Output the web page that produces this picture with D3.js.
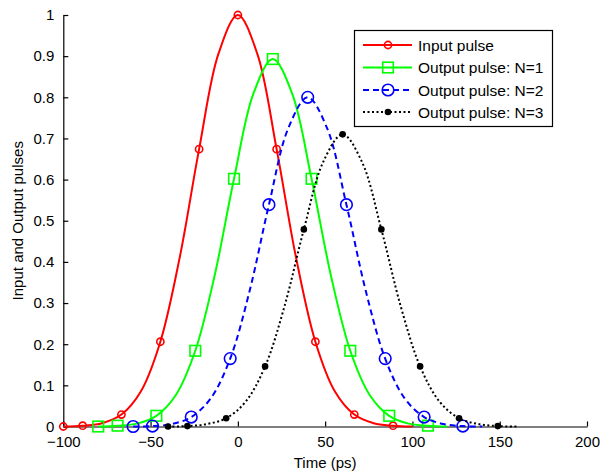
<!DOCTYPE html>
<html>
<head>
<meta charset="utf-8">
<script src="https://cdn.jsdelivr.net/npm/d3@7"></script>
<style>
  html, body { margin: 0; padding: 0; background: #fff; }
  svg { display: block; }
  text { font-family: Arial, "Liberation Sans", sans-serif; fill: #000; }
</style>
</head>
<body>
<svg id="chart" width="602" height="474"></svg>
<script>
// ---- Data ----
const xTicks = [-100, -50, 0, 50, 100, 150, 200];
const yTicks = [0, 0.1, 0.2, 0.3, 0.4, 0.5, 0.6, 0.7, 0.8, 0.9, 1];
const yTickLabels = ["0", "0.1", "0.2", "0.3", "0.4", "0.5", "0.6", "0.7", "0.8", "0.9", "1"];

const seriesNames = ["Input pulse", "Output pulse: N=1", "Output pulse: N=2", "Output pulse: N=3"];

const timeInput = [-100, -88.9, -77.8, -66.7, -55.6, -44.4, -33.3, -22.2, -11.1, 0, 11.1, 22.2, 33.3, 44.4, 55.6, 66.7, 77.8, 88.9, 100];
const valInput  = [0.000, 0.002, 0.008, 0.029, 0.085, 0.206, 0.411, 0.674, 0.906, 1.000, 0.906, 0.674, 0.411, 0.206, 0.085, 0.029, 0.008, 0.002, 0.000];

const timeN1 = [-80, -68.9, -57.8, -46.7, -35.6, -24.4, -13.3, -2.2, 8.9, 20, 31.1, 42.2, 53.3, 64.4, 75.6, 86.7, 97.8, 108.9, 120];
const valN1  = [0.000, 0.002, 0.007, 0.026, 0.076, 0.184, 0.367, 0.602, 0.809, 0.893, 0.809, 0.602, 0.367, 0.184, 0.076, 0.026, 0.007, 0.002, 0.000];

const timeN2 = [-60, -48.9, -37.8, -26.7, -15.6, -4.4, 6.7, 17.8, 28.9, 40, 51.1, 62.2, 73.3, 84.4, 95.6, 106.7, 117.8, 128.9, 140];
const valN2  = [0.000, 0.001, 0.006, 0.023, 0.068, 0.165, 0.329, 0.539, 0.725, 0.800, 0.725, 0.539, 0.329, 0.165, 0.068, 0.023, 0.006, 0.001, 0.000];

const timeN3 = [-40, -28.9, -17.8, -6.7, 4.4, 15.6, 26.7, 37.8, 48.9, 60, 71.1, 82.2, 93.3, 104.4, 115.6, 126.7, 137.8, 148.9, 160];
const valN3  = [0.000, 0.001, 0.006, 0.020, 0.060, 0.146, 0.292, 0.479, 0.643, 0.710, 0.643, 0.479, 0.292, 0.146, 0.060, 0.020, 0.006, 0.001, 0.000];

// indices of samples carrying a marker
const markerIdx = [0, 1, 3, 5, 7, 9, 11, 13, 15, 17];

const colors = ["#ff0000", "#00ff00", "#0000ff", "#000000"];
const dashes = [null, null, "6,4", "2,2.5"];
const markerTypes = ["smallCircle", "square", "circle", "dot"];

// ---- Chart ----
const svg = d3.select("#chart");
const x = d3.scaleLinear().domain([-100, 200]).range([63.3, 587]);
const y = d3.scaleLinear().domain([0, 1]).range([426.5, 15]);

const series = [
  { name: seriesNames[0], t: timeInput, v: valInput },
  { name: seriesNames[1], t: timeN1, v: valN1 },
  { name: seriesNames[2], t: timeN2, v: valN2 },
  { name: seriesNames[3], t: timeN3, v: valN3 }
];

const line = d3.line()
  .x(d => x(d[0]))
  .y(d => y(d[1]))
  .curve(d3.curveCatmullRom.alpha(0.5));

function drawMarker(g, type, cx, cy, color) {
  if (type === "smallCircle") {
    g.append("circle").attr("cx", cx).attr("cy", cy).attr("r", 3.6)
      .attr("fill", "none").attr("stroke", color).attr("stroke-width", 1.6);
  } else if (type === "square") {
    g.append("rect").attr("x", cx - 5.3).attr("y", cy - 5.3).attr("width", 10.6).attr("height", 10.6)
      .attr("fill", "none").attr("stroke", color).attr("stroke-width", 1.6);
  } else if (type === "circle") {
    g.append("circle").attr("cx", cx).attr("cy", cy).attr("r", 5.8)
      .attr("fill", "none").attr("stroke", color).attr("stroke-width", 1.6);
  } else {
    g.append("circle").attr("cx", cx).attr("cy", cy).attr("r", 3.3)
      .attr("fill", color).attr("stroke", "none");
  }
}

// Axes
const xAxis = d3.axisBottom(x).tickValues(xTicks).tickSizeInner(-5).tickSizeOuter(0).tickPadding(10);
const yAxis = d3.axisLeft(y).tickValues(yTicks).tickFormat((d, i) => yTickLabels[i]).tickSizeInner(-5).tickSizeOuter(0).tickPadding(8);

const gx = svg.append("g").attr("transform", `translate(0,${y(0)})`).call(xAxis);
const gy = svg.append("g").attr("transform", `translate(${x(-100)},0)`).call(yAxis);
[gx, gy].forEach(g => {
  g.selectAll("path.domain").attr("stroke", "#000").attr("stroke-width", 1.2);
  g.selectAll(".tick line").attr("stroke", "#000").attr("stroke-width", 1.2);
  g.selectAll(".tick text").attr("font-size", "15px").attr("fill", "#000")
    .attr("font-family", "Arial, 'Liberation Sans', sans-serif");
});
gx.selectAll(".tick text").attr("dy", "0.71em");
gy.selectAll(".tick text").attr("dx", "-1");

// Series lines and markers
series.forEach((s, i) => {
  const pts = s.t.map((t, j) => [t, s.v[j]]);
  svg.append("path").datum(pts)
    .attr("d", line)
    .attr("fill", "none")
    .attr("stroke", colors[i])
    .attr("stroke-width", 2)
    .attr("stroke-dasharray", dashes[i]);
  const mg = svg.append("g");
  markerIdx.forEach(j => drawMarker(mg, markerTypes[i], x(s.t[j]), y(s.v[j]), colors[i]));
});

// Axis titles
svg.append("text").attr("x", (x(-100) + x(200)) / 2).attr("y", 468)
  .attr("text-anchor", "middle").attr("font-size", "15px").text("Time (ps)");
svg.append("text")
  .attr("transform", `translate(23,${(y(0) + y(1)) / 2}) rotate(-90)`)
  .attr("text-anchor", "middle").attr("font-size", "15px").text("Input and Output pulses");

// Legend
const lg = svg.append("g");
lg.append("rect").attr("x", 354.5).attr("y", 30.5).attr("width", 198).attr("height", 96)
  .attr("fill", "#fff").attr("stroke", "#000").attr("stroke-width", 1.2);
const rowY = [45, 67.5, 90, 112];
series.forEach((s, i) => {
  lg.append("line").attr("x1", 363).attr("x2", 412).attr("y1", rowY[i]).attr("y2", rowY[i])
    .attr("stroke", colors[i]).attr("stroke-width", 2).attr("stroke-dasharray", dashes[i]);
  drawMarker(lg, markerTypes[i], 388, rowY[i], colors[i]);
  lg.append("text").attr("x", 418).attr("y", rowY[i]).attr("dy", "0.36em")
    .attr("font-size", "15.5px").text(s.name);
});
</script>
</body>
</html>
